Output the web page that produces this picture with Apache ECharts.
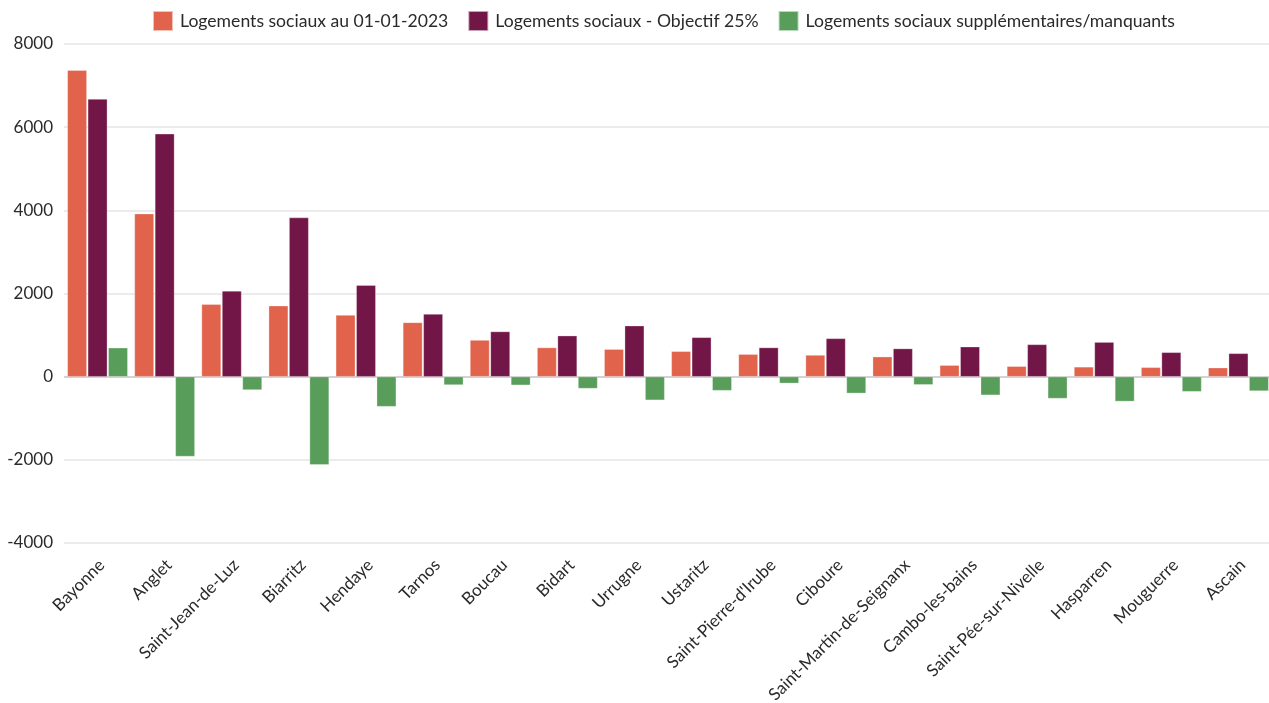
<!DOCTYPE html>
<html>
<head>
<meta charset="utf-8">
<script src="https://cdn.jsdelivr.net/npm/echarts@6/dist/echarts.min.js"></script>
<style>
  html, body { margin: 0; padding: 0; background: #fff; }
  #chart { width: 1269px; height: 703px; }
</style>
</head>
<body>
<div id="chart"></div>
<script>
// Communes
const communes = [
  'Bayonne', 'Anglet', 'Saint-Jean-de-Luz', 'Biarritz', 'Hendaye', 'Tarnos',
  'Boucau', 'Bidart', 'Urrugne', 'Ustaritz', "Saint-Pierre-d'Irube", 'Ciboure',
  'Saint-Martin-de-Seignanx', 'Cambo-les-bains', 'Saint-Pée-sur-Nivelle',
  'Hasparren', 'Mouguerre', 'Ascain'
];

// Logements sociaux au 01-01-2023
const logementsActuels = [
  7370, 3920, 1740, 1705, 1480, 1305, 880, 700, 660, 610, 540, 520,
  480, 275, 250, 235, 225, 215
];

// Logements sociaux - Objectif 25%
const logementsObjectif = [
  6675, 5840, 2060, 3825, 2200, 1505, 1085, 985, 1225, 945, 700, 920,
  675, 720, 775, 830, 585, 560
];

// Logements sociaux supplémentaires/manquants
const logementsEcart = [
  695, -1920, -320, -2120, -720, -200, -205, -285, -565, -335, -160, -400,
  -195, -445, -525, -595, -360, -345
];

// Graduations de l'axe vertical
const yMin = -4000;
const yMax = 8000;
const yStep = 2000;

const seriesNames = [
  'Logements sociaux au 01-01-2023',
  'Logements sociaux - Objectif 25%',
  'Logements sociaux supplémentaires/manquants'
];
const colors = ['#E2634B', '#721547', '#589D59'];

const font = 'Lato, "Noto Sans", sans-serif';
const chart = echarts.init(document.getElementById('chart'));

// Ligne du zéro plus marquée que les autres lignes de grille
const nLines = (yMax - yMin) / yStep + 1;
const splitColors = [];
for (let i = 0; i < nLines; i++) {
  splitColors.push(yMin + i * yStep === 0 ? '#c4c4c4' : '#e4e4e4');
}

const barStyle = (c) => ({ color: c, borderColor: 'rgba(255,255,255,0.6)', borderWidth: 0.5 });

chart.setOption({
  animation: false,
  backgroundColor: '#ffffff',
  textStyle: { fontFamily: font },
  color: colors,
  legend: {
    top: 10,
    left: 152,
    padding: 0,
    icon: 'rect',
    itemWidth: 20,
    itemHeight: 20,
    itemGap: 19,
    textStyle: { fontFamily: font, fontSize: 17.6, color: '#2a2a2a', padding: [0, 0, 0, 2] },
    data: seriesNames
  },
  grid: {
    left: 64,
    top: 44,
    width: 1208,
    bottom: 160,
    containLabel: false,
    outerBoundsMode: 'none'
  },
  xAxis: {
    type: 'category',
    data: communes,
    axisLine: { show: false },
    axisTick: { show: false },
    axisLabel: {
      interval: 0,
      rotate: 45,
      margin: 15,
      fontFamily: font,
      fontSize: 17,
      color: '#2a2a2a',
      formatter: (name) => '{n|' + name + '}',
      rich: {
        n: { fontFamily: font, fontSize: 17, color: '#2a2a2a', padding: [12, 0, 0, 0] }
      }
    },
    splitLine: { show: false }
  },
  yAxis: {
    type: 'value',
    min: yMin,
    max: yMax,
    interval: yStep,
    axisLine: { show: false },
    axisTick: { show: false },
    axisLabel: {
      margin: 11,
      fontFamily: font,
      fontSize: 17,
      color: '#2a2a2a',
      formatter: (v) => String(v)
    },
    splitLine: { show: true, lineStyle: { color: splitColors, width: 1.5 } }
  },
  series: [
    {
      name: seriesNames[0], type: 'bar', data: logementsActuels,
      barCategoryGap: '10%', barGap: '5%', itemStyle: barStyle(colors[0])
    },
    {
      name: seriesNames[1], type: 'bar', data: logementsObjectif,
      barCategoryGap: '10%', barGap: '5%', itemStyle: barStyle(colors[1])
    },
    {
      name: seriesNames[2], type: 'bar', data: logementsEcart,
      barCategoryGap: '10%', barGap: '5%', itemStyle: barStyle(colors[2])
    }
  ]
});
</script>
</body>
</html>
